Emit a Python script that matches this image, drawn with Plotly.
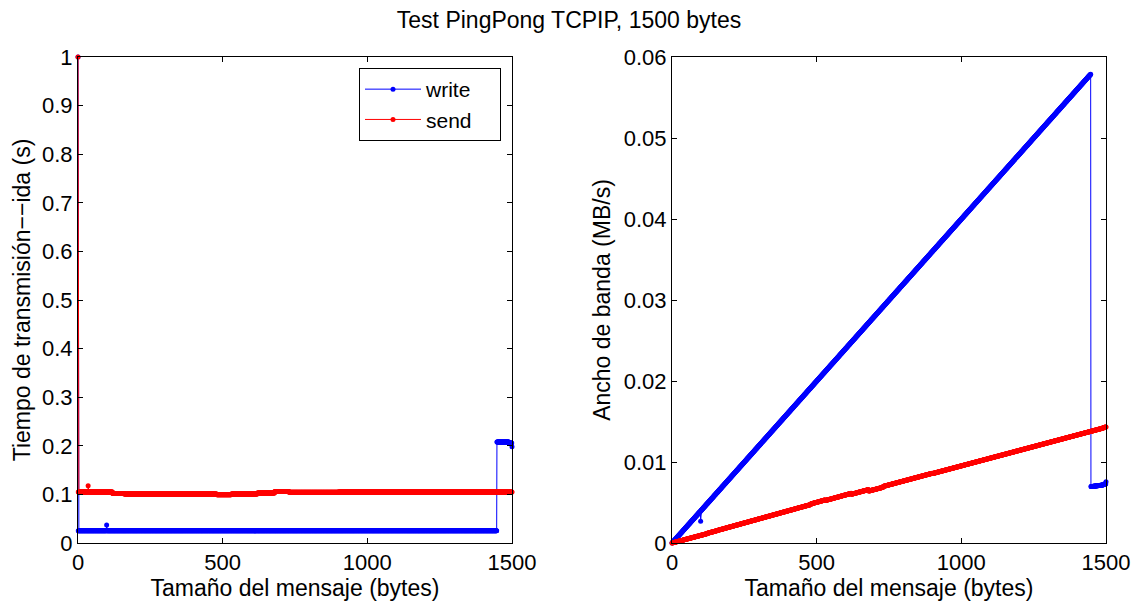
import plotly.graph_objects as go

# Message sizes (bytes)
size_min = 0
size_max = 1500

# Round-trip time, as (first size, value) runs
write_runs = [(0, 1.0), (1, 0.025), (99, 0.037), (100, 0.025),
              (1448, 0.208), (1490, 0.206), (1500, 0.198)]
send_runs = [(0, 1.0), (1, 0.105), (35, 0.118), (36, 0.105), (120, 0.102),
             (160, 0.101), (480, 0.0995), (530, 0.101), (620, 0.103),
             (680, 0.106), (730, 0.1045), (900, 0.105), (1490, 0.1047)]

series_names = ["write", "send"]
x_ticks = [0, 500, 1000, 1500]
t_ticks = [0, 0.1, 0.2, 0.3, 0.4, 0.5, 0.6, 0.7, 0.8, 0.9, 1]
bw_ticks = [0, 0.01, 0.02, 0.03, 0.04, 0.05, 0.06]

sizes = list(range(size_min, size_max + 1))


def expand(runs):
    out = []
    for s in sizes:
        v = runs[0][1]
        for start, val in runs:
            if s >= start:
                v = val
        out.append(v)
    return out


write_t = expand(write_runs)
send_t = expand(send_runs)
# Bandwidth (MB/s) = size / round-trip time
write_bw = [s / t / 1e6 for s, t in zip(sizes, write_t)]
send_bw = [s / t / 1e6 for s, t in zip(sizes, send_t)]

FONT = "Liberation Sans, Arial, sans-serif"
BLUE = "#0000ff"
RED = "#ff0000"
TICK_SIZE = 22
LABEL_SIZE = 23
PAD = "\u00a0" * 4  # right padding inside legend box

fig = go.Figure()
mk = dict(size=5)
fig.add_trace(go.Scatter(x=sizes, y=write_t, mode="lines+markers", name=series_names[0] + PAD,
                         line=dict(color=BLUE, width=1), marker=dict(color=BLUE, **mk),
                         xaxis="x", yaxis="y", cliponaxis=False))
fig.add_trace(go.Scatter(x=sizes, y=send_t, mode="lines+markers", name=series_names[1] + PAD,
                         line=dict(color=RED, width=1), marker=dict(color=RED, **mk),
                         xaxis="x", yaxis="y", cliponaxis=False))
fig.add_trace(go.Scatter(x=sizes, y=write_bw, mode="lines+markers", name=series_names[0],
                         line=dict(color=BLUE, width=1), marker=dict(color=BLUE, **mk),
                         xaxis="x2", yaxis="y2", showlegend=False, cliponaxis=False))
fig.add_trace(go.Scatter(x=sizes, y=send_bw, mode="lines+markers", name=series_names[1],
                         line=dict(color=RED, width=1), marker=dict(color=RED, **mk),
                         xaxis="x2", yaxis="y2", showlegend=False, cliponaxis=False))

ax_common = dict(showline=True, linecolor="black", linewidth=1, mirror="ticks",
                 ticks="inside", ticklen=5, tickcolor="black", showgrid=False,
                 zeroline=False, automargin=False,
                 tickfont=dict(size=TICK_SIZE, color="black", family=FONT))

ydom = [1 - 543 / 608, 1 - 57 / 608]
fig.update_layout(
    width=1138, height=608,
    margin=dict(l=0, r=0, t=0, b=0),
    paper_bgcolor="white", plot_bgcolor="white",
    font=dict(family=FONT, color="black"),
    title=dict(text="Test PingPong TCPIP, 1500 bytes", x=0.5, xanchor="center",
               y=1 - 20 / 608, yanchor="middle", font=dict(size=LABEL_SIZE, color="black"),
               automargin=False),
    xaxis=dict(domain=[78 / 1138, 512 / 1138], range=[0, 1500], tickvals=x_ticks,
               title=dict(text="Tamaño del mensaje (bytes)", font=dict(size=LABEL_SIZE), standoff=2),
               anchor="y", **ax_common),
    yaxis=dict(domain=ydom, range=[0, 1], tickvals=t_ticks,
               title=dict(text="Tiempo de transmisión−−ida (s)", font=dict(size=LABEL_SIZE), standoff=4),
               anchor="x", **ax_common),
    xaxis2=dict(domain=[672 / 1138, 1106 / 1138], range=[0, 1500], tickvals=x_ticks,
                title=dict(text="Tamaño del mensaje (bytes)", font=dict(size=LABEL_SIZE), standoff=2),
                anchor="y2", **ax_common),
    yaxis2=dict(domain=ydom, range=[0, 0.06], tickvals=bw_ticks,
                title=dict(text="Ancho de banda (MB/s)", font=dict(size=LABEL_SIZE), standoff=6),
                anchor="x2", **ax_common),
    legend=dict(x=501 / 1138, xanchor="right", y=1 - 68 / 608, yanchor="top",
                bgcolor="white", bordercolor="black", borderwidth=1,
                font=dict(size=21, color="black"), itemwidth=56,
                tracegroupgap=0),
    showlegend=True,
)

fig.write_html("out.html")
